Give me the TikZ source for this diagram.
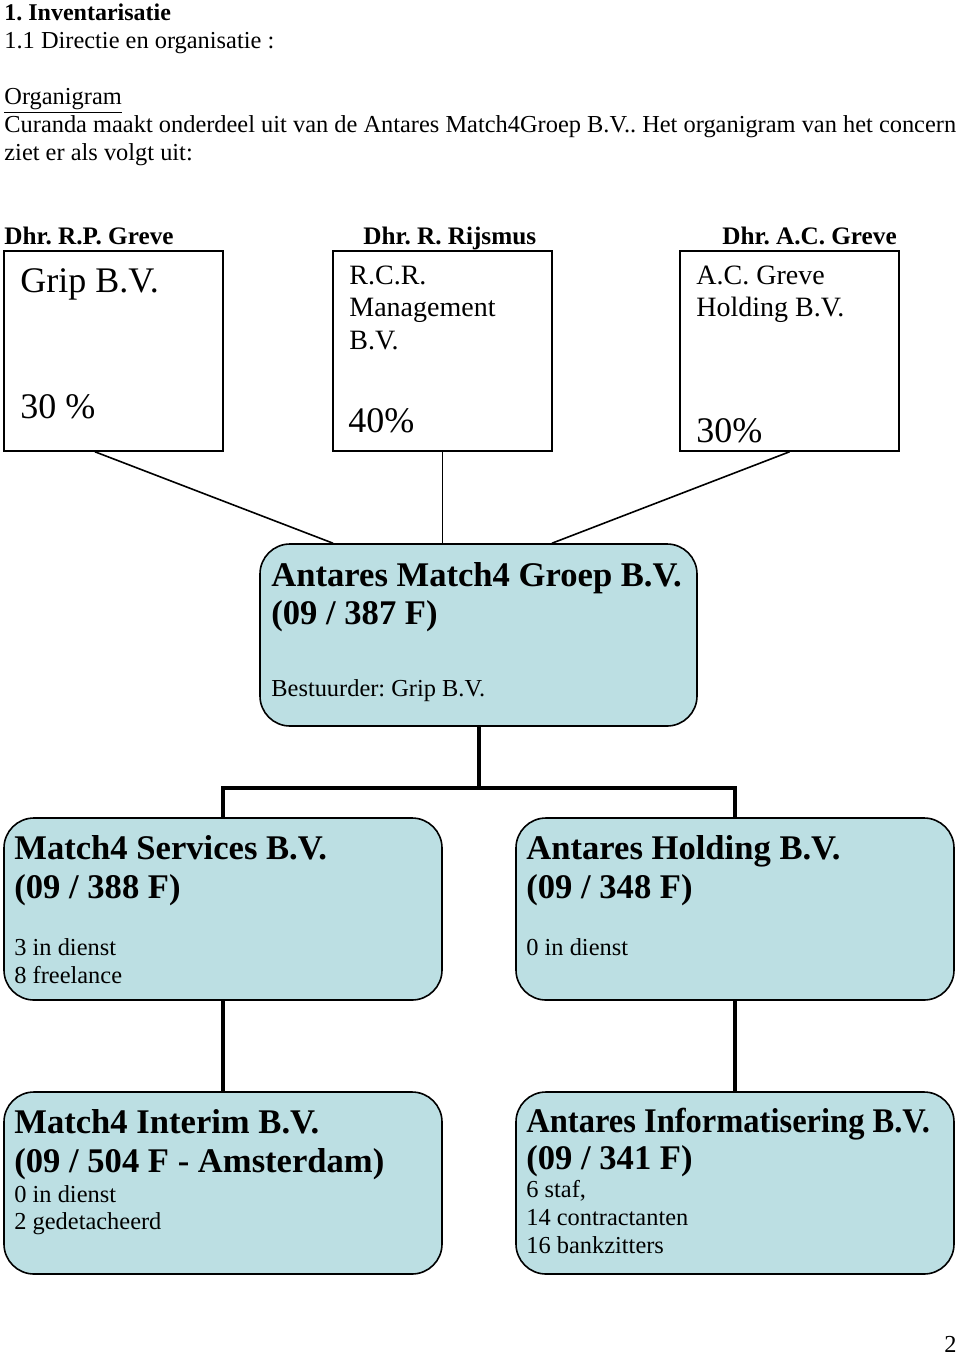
\documentclass[tikz,border=0pt]{standalone}
\usepackage{fontspec}
\setmainfont{Liberation Serif}
\definecolor{boxblue}{RGB}{188,223,227}
\tikzset{
  txt/.style={anchor=base west, inner sep=0pt, font=\fontsize{12.2}{14}\selectfont},
  btxt/.style={txt, font=\fontsize{12}{14}\selectfont\bfseries},
  ntxt/.style={txt, font=\fontsize{12.6}{14}\selectfont\bfseries},
  bigtxt/.style={txt, font=\fontsize{18}{20}\selectfont},
  midtxt/.style={txt, font=\fontsize{14}{16}\selectfont},
  headtxt/.style={txt, font=\fontsize{17.3}{20}\selectfont\bfseries},
  ownerbox/.style={draw=black, line width=0.8pt, fill=white, minimum width=109.5pt, minimum height=100pt, inner sep=0pt},
  bluebox/.style={draw=black, line width=0.8pt, fill=boxblue, rounded corners=15pt, minimum width=219pt, minimum height=91pt, inner sep=0pt},
  thin/.style={line width=0.8pt},
  thickline/.style={line width=2pt},
}
\begin{document}
\frenchspacing
\begin{tikzpicture}[x=0.5pt, y=-0.5pt]
\useasboundingbox (0,0) rectangle (960,1356);
% header text
\node[btxt] (h1) at (4,20) {1. Inventarisatie};
\node[txt] (h2) at (4,48) {1.1 Directie en organisatie :};
\node[txt] (h3) at (4,104) {\underline{Organigram}};
\node[txt] (h4) at (4,132) {Curanda maakt onderdeel uit van de Antares Match4Groep B.V.. Het organigram van het concern};
\node[txt] (h5) at (4,160) {ziet er als volgt uit:};
% owners
\node[ntxt] (n1) at (4,244) {Dhr. R.P. Greve};
\node[ntxt] (n2) at (363,244) {Dhr. R. Rijsmus};
\node[ntxt] (n3) at (722,244) {Dhr. A.C. Greve};
\node[ownerbox] (o1) at (113.5,351) {};
\node[ownerbox] (o2) at (442.5,351) {};
\node[ownerbox] (o3) at (789.5,351) {};
\node[bigtxt] (o1a) at (20,292) {Grip B.V.};
\node[bigtxt] (o1b) at (20,418) {30 \%};
\node[midtxt] (o2a) at (349,284) {R.C.R.};
\node[midtxt] (o2b) at (349,316) {Management};
\node[midtxt] (o2c) at (349,349) {B.V.};
\node[bigtxt] (o2d) at (348,432) {40\%};
\node[midtxt] (o3a) at (696,284) {A.C. Greve};
\node[midtxt] (o3b) at (696,316) {Holding B.V.};
\node[bigtxt] (o3c) at (696,442) {30\%};
% blue boxes
\node[bluebox, minimum width=218.5pt] (am) at (478.5,635) {};
\node[bluebox] (ms) at (223,909) {};
\node[bluebox] (ah) at (735,909) {};
\node[bluebox] (mi) at (223,1183) {};
\node[bluebox] (ai) at (735,1183) {};
% connectors owners -> antares
\draw[thin] ([xshift=-9.25pt]o1.south) -- ([xshift=-72.75pt]am.north);
\draw[thin] (o2.south) -- (o2.south |- am.north);
\draw[thin] (o3.south) -- ([xshift=36.75pt]am.north);
% thick tree
\coordinate (bus) at (478.5,788);
\draw[thickline] (am.south) -- (bus);
\draw[thickline] (ms.north) |- (bus) -| (ah.north);
\draw[thickline] (ms.south) -- (mi.north);
\draw[thickline] (ah.south) -- (ai.north);
% box texts
\node[headtxt] (t1) at (271,586) {Antares Match4 Groep B.V.};
\node[headtxt] (t2) at (271,624) {(09 / 387 F)};
\node[txt] (t3) at (271,696) {Bestuurder: Grip B.V.};
\node[headtxt] (s1) at (14,859) {Match4 Services B.V.};
\node[headtxt] (s2) at (14,898) {(09 / 388 F)};
\node[txt] (s3) at (14,955) {3 in dienst};
\node[txt] (s4) at (14,983) {8 freelance};
\node[headtxt] (ho1) at (526,859) {Antares Holding B.V.};
\node[headtxt] (ho2) at (526,898) {(09 / 348 F)};
\node[txt] (ho3) at (526,955) {0 in dienst};
\node[headtxt] (i1) at (14,1133) {Match4 Interim B.V.};
\node[headtxt] (i2) at (14,1172) {(09 / 504 F - Amsterdam)};
\node[txt] (i3) at (14,1202) {0 in dienst};
\node[txt] (i4) at (14,1229) {2 gedetacheerd};
\node[headtxt] (f1) at (526,1132) {\scalebox{0.94}[1]{Antares Informatisering B.V.}};
\node[headtxt] (f2) at (526,1169) {(09 / 341 F)};
\node[txt] (f3) at (526,1197) {6 staf,};
\node[txt] (f4) at (526,1225) {14 contractanten};
\node[txt] (f5) at (526,1253) {16 bankzitters};
\node[txt] (pg) at (944,1352) {2};
\end{tikzpicture}
\end{document}
